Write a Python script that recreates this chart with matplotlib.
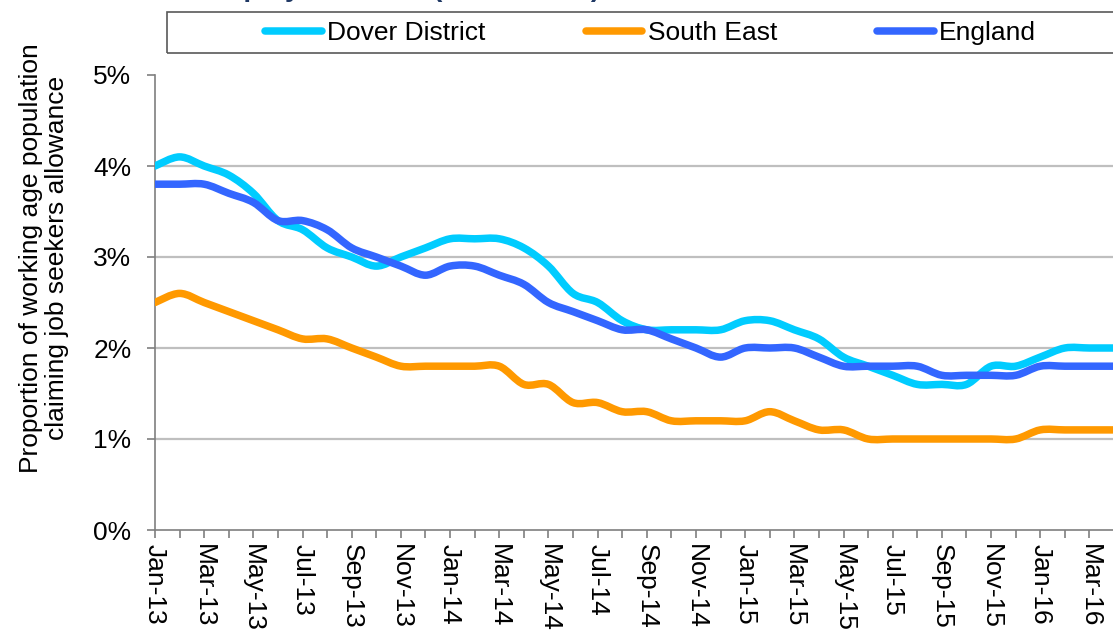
import numpy as np
import matplotlib
matplotlib.use("Agg")
import matplotlib.pyplot as plt
from matplotlib.path import Path
from matplotlib.patches import PathPatch, Rectangle
from matplotlib.lines import Line2D

plt.rcParams['font.family'] = ['Liberation Sans', 'DejaVu Sans']

# monthly values Jan-13 .. Apr-16 (% of working age population)
dover = [4.0, 4.1, 4.0, 3.9, 3.7, 3.4, 3.3, 3.1, 3.0, 2.9,
         3.0, 3.1, 3.2, 3.2, 3.2, 3.1, 2.9, 2.6, 2.5, 2.3,
         2.2, 2.2, 2.2, 2.2, 2.3, 2.3, 2.2, 2.1, 1.9, 1.8,
         1.7, 1.6, 1.6, 1.6, 1.8, 1.8, 1.9, 2.0, 2.0, 2.0]
south_east = [2.5, 2.6, 2.5, 2.4, 2.3, 2.2, 2.1, 2.1, 2.0, 1.9,
              1.8, 1.8, 1.8, 1.8, 1.8, 1.6, 1.6, 1.4, 1.4, 1.3,
              1.3, 1.2, 1.2, 1.2, 1.2, 1.3, 1.2, 1.1, 1.1, 1.0,
              1.0, 1.0, 1.0, 1.0, 1.0, 1.0, 1.1, 1.1, 1.1, 1.1]
england = [3.8, 3.8, 3.8, 3.7, 3.6, 3.4, 3.4, 3.3, 3.1, 3.0,
           2.9, 2.8, 2.9, 2.9, 2.8, 2.7, 2.5, 2.4, 2.3, 2.2,
           2.2, 2.1, 2.0, 1.9, 2.0, 2.0, 2.0, 1.9, 1.8, 1.8,
           1.8, 1.8, 1.7, 1.7, 1.7, 1.7, 1.8, 1.8, 1.8, 1.8]
series_names = ["Dover District", "South East", "England"]
colors = ["#00CCFF", "#FF9900", "#3366FF"]
tick_labels = ["Jan-13", "Mar-13", "May-13", "Jul-13", "Sep-13", "Nov-13",
               "Jan-14", "Mar-14", "May-14", "Jul-14", "Sep-14", "Nov-14",
               "Jan-15", "Mar-15", "May-15", "Jul-15", "Sep-15", "Nov-15",
               "Jan-16", "Mar-16"]

FS = 19


def smooth_patch(y, color):
    # Excel style smoothed line: cubic bezier segments through the points
    pts = np.column_stack([np.arange(len(y)), np.asarray(y, float)])
    n = len(pts)
    verts = [pts[0]]
    codes = [Path.MOVETO]
    for i in range(n - 1):
        p0 = pts[max(i - 1, 0)]
        p1 = pts[i]
        p2 = pts[i + 1]
        p3 = pts[min(i + 2, n - 1)]
        verts += [p1 + (p2 - p0) / 6, p2 - (p3 - p1) / 6, p2]
        codes += [Path.CURVE4] * 3
    return PathPatch(Path(verts, codes), fill=False, edgecolor=color, lw=5.4,
                     capstyle='round', joinstyle='round', zorder=3)


W, H = 1113, 632
fig = plt.figure(figsize=(W / 100, H / 100), dpi=100)
ax = fig.add_axes([155 / W, 1 - 530 / H, (1114 - 155) / W, 455 / H])

for ys, c in zip([dover, south_east, england], colors):
    ax.add_patch(smooth_patch(ys, c))

ax.set_xlim(0, len(dover) - 1)
ax.set_ylim(0, 5)
ax.set_yticks([0, 1, 2, 3, 4, 5])
ax.set_yticklabels([f"{v}%" for v in range(6)], fontsize=FS)
for v in [1, 2, 3, 4]:
    ax.axhline(v, color="#BFBFBF", lw=1.6, zorder=1)

ax.set_xticks(np.arange(len(dover)))
lab = [""] * len(dover)
for k, t in enumerate(tick_labels):
    lab[2 * k] = t
ax.set_xticklabels(lab, rotation=270, fontsize=FS, ha='center', va='top')

for s in ["top", "right"]:
    ax.spines[s].set_visible(False)
for s in ["left", "bottom"]:
    ax.spines[s].set_color("#7F7F7F")
    ax.spines[s].set_linewidth(1.2)
ax.tick_params(axis='both', direction='out', length=6, width=1.2, color="#7F7F7F")
ax.tick_params(axis='x', pad=4)
ax.tick_params(axis='y', pad=11)

fig.text(44 / W, 1 - 258 / H,
         "Proportion of working age population\nclaiming job seekers allowance",
         rotation=90, ha='center', va='center', fontsize=FS,
         multialignment='center', linespacing=1.15)

# title, mostly cut off at the top edge
fig.text(-80 / W, 1 + 4 / H, "Figure 9: Claimant unemployment rate (2013 - 2016)",
         color="#1F3864", fontsize=20, fontweight='bold', va='baseline', ha='left')

handles = [Line2D([], [], color=c, lw=5.4, solid_capstyle='round') for c in colors]
fig.legend(handles, series_names, loc='center left',
           bbox_to_anchor=(265 / W, 1 - 33 / H), ncol=3, frameon=False,
           handlelength=2.15, handletextpad=0.2, columnspacing=3.8,
           fontsize=FS, borderpad=0, borderaxespad=0)
fig.add_artist(Rectangle((167 / W, 1 - 53 / H), 1100 / W, 41 / H,
                         transform=fig.transFigure, fill=False,
                         ec="#595959", lw=1.2))

fig.savefig("out.png", dpi=100)
